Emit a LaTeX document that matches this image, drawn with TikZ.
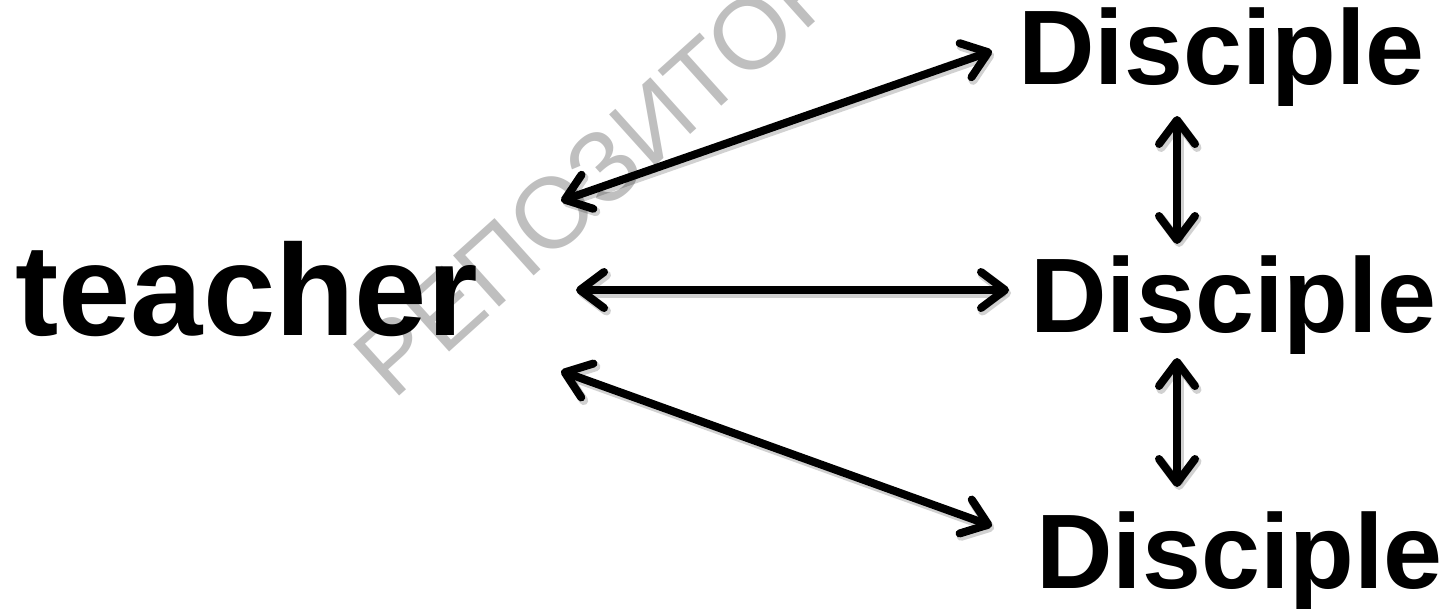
\documentclass[tikz,border=0pt]{standalone}
\usepackage{fontspec}
\setmainfont{Liberation Sans}
\usetikzlibrary{arrows.meta}
\begin{document}
\begin{tikzpicture}[x=1pt,y=-1pt,
  lbl/.style={inner sep=0pt, anchor=base west, font=\bfseries},
  conn/.style={line width=8pt, line cap=round,
    >={Straight Barb[length=24pt,width=36pt,line cap=round,line join=round]}, <->},
  shd/.style={conn, draw=black, opacity=0.18, line width=9pt,
    transform canvas={shift={(2pt,-3pt)}}},
  wmark/.style={inner sep=0pt, text=black!25, font=\fontsize{100}{100}\selectfont}]
\useasboundingbox (0,0) rectangle (1445,608);
% watermark
\node[wmark, rotate=42, anchor=mid west] (wm) at (392,400) {РЕПОЗИТОРИЙ};
% labels
\node[lbl, font=\bfseries\fontsize{130}{130}\selectfont] (teacher) at (15,335) {teacher};
\node[lbl, font=\bfseries\fontsize{106}{106}\selectfont] (d1) at (1018,84) {Disciple};
\node[lbl, font=\bfseries\fontsize{106}{106}\selectfont] (d2) at (1030,332) {Disciple};
\node[lbl, font=\bfseries\fontsize{106}{106}\selectfont] (d3) at (1036,588) {Disciple};
% connector end points
\coordinate (t1) at (561,201);
\coordinate (t2) at (576,290);
\coordinate (t3) at (561,371);
\coordinate (e1) at (992,51);
\coordinate (e2) at (1009,290);
\coordinate (e3) at (992,526);
\coordinate (v1a) at (1177,116);
\coordinate (v1b) at (1177,244);
\coordinate (v2a) at (1177,358);
\coordinate (v2b) at (1177,487);
% shadows
\draw[shd] (t1) -- (e1);
\draw[shd] (t2) -- (e2);
\draw[shd] (t3) -- (e3);
\draw[shd] (v1a) -- (v1b);
\draw[shd] (v2a) -- (v2b);
% connectors
\draw[conn] (t1) -- (e1);
\draw[conn] (t2) -- (e2);
\draw[conn] (t3) -- (e3);
\draw[conn] (v1a) -- (v1b);
\draw[conn] (v2a) -- (v2b);
\end{tikzpicture}
\end{document}
